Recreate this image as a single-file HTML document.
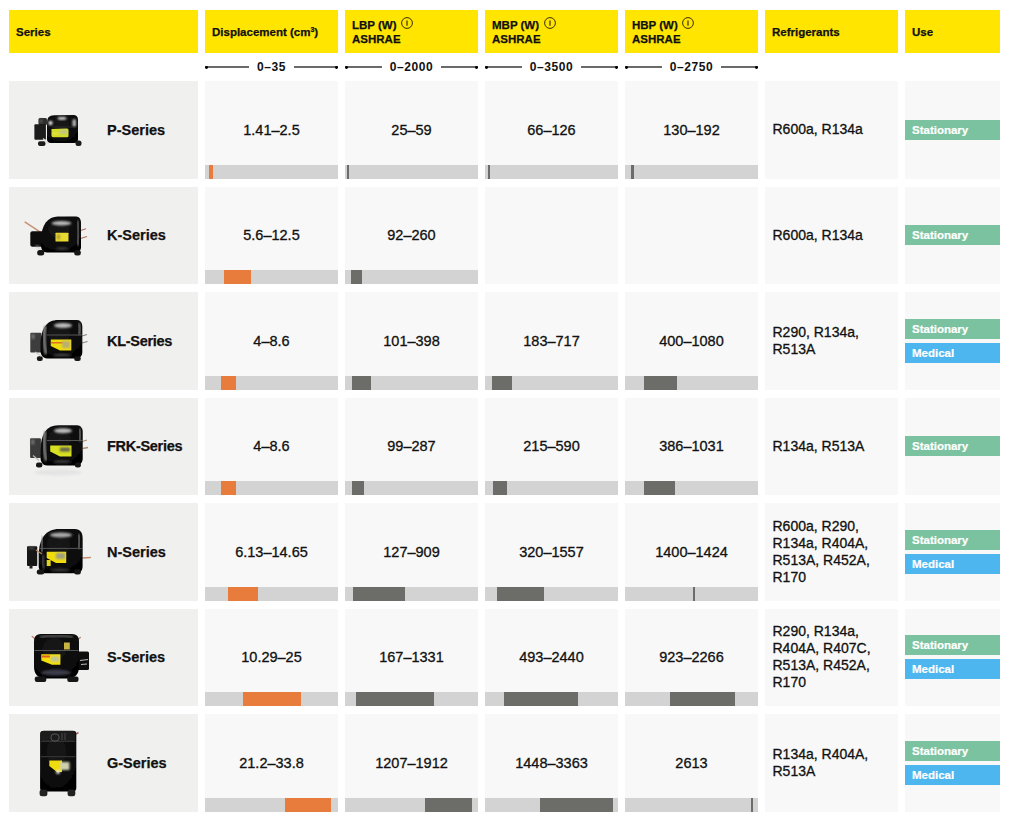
<!DOCTYPE html><html><head><meta charset="utf-8"><style>
*{margin:0;padding:0;box-sizing:border-box}
html,body{width:1024px;height:830px;background:#fff;overflow:hidden}
body{position:relative;font-family:"Liberation Sans",sans-serif;color:#111}
.a{position:absolute}
.hd{position:absolute;top:10px;height:43px;background:#ffe500;font-weight:bold;font-size:11.5px;color:#111;line-height:13.7px}
.hd span{position:absolute;left:7px;-webkit-text-stroke:0.25px #111}
.hd svg{position:absolute}
.rng{position:absolute;top:59px;height:16px}
.rng .l{position:absolute;top:66.5px}
.cell{position:absolute;background:#f8f8f8}
.num{position:absolute;left:0;right:0;text-align:center;font-size:14.5px;line-height:16px;-webkit-text-stroke:0.3px #111}
.bar{position:absolute;left:0;right:0;bottom:0;height:14px;background:#d3d3d3}
.mk{position:absolute;top:0;height:14px}
.ser{position:absolute;font-weight:bold;font-size:14.5px;line-height:16px;left:98px;-webkit-text-stroke:0.25px #111}
.ref{position:absolute;left:7.5px;font-size:14px;line-height:17px;-webkit-text-stroke:0.3px #111}
.badge{position:absolute;left:0;width:95px;height:20px;color:#fff;font-weight:bold;font-size:11.5px;line-height:20px;padding-left:7px;-webkit-text-stroke:0.2px #fff}
</style></head><body>

<div class="hd" style="left:9px;width:189px"><span style="top:15.7px">Series</span></div>
<div class="hd" style="left:205px;width:133px"><span style="top:15.7px">Displacement (cm<sup style="font-size:7px;vertical-align:0;position:relative;top:-4px">3</sup>)</span></div>
<div class="hd" style="left:345px;width:133px"><span style="top:8.8px">LBP (W)<br>ASHRAE</span></div>
<svg class="a" style="left:400.9px;top:17px" width="13" height="13" viewBox="0 0 13 13"><circle cx="6" cy="6" r="5.4" fill="none" stroke="#3a3000" stroke-width="1"/><path d="M6 3.4 L6 8.8" stroke="#3a3000" stroke-width="1.2"/></svg>
<div class="hd" style="left:485px;width:133px"><span style="top:8.8px">MBP (W)<br>ASHRAE</span></div>
<svg class="a" style="left:544.1999999999999px;top:17px" width="13" height="13" viewBox="0 0 13 13"><circle cx="6" cy="6" r="5.4" fill="none" stroke="#3a3000" stroke-width="1"/><path d="M6 3.4 L6 8.8" stroke="#3a3000" stroke-width="1.2"/></svg>
<div class="hd" style="left:625px;width:133px"><span style="top:8.8px">HBP (W)<br>ASHRAE</span></div>
<svg class="a" style="left:681.8px;top:17px" width="13" height="13" viewBox="0 0 13 13"><circle cx="6" cy="6" r="5.4" fill="none" stroke="#3a3000" stroke-width="1"/><path d="M6 3.4 L6 8.8" stroke="#3a3000" stroke-width="1.2"/></svg>
<div class="hd" style="left:765px;width:133px"><span style="top:15.7px">Refrigerants</span></div>
<div class="hd" style="left:905px;width:95px"><span style="top:15.7px">Use</span></div>
<div class="a" style="left:205px;top:59px;width:133px;height:16px;display:flex;align-items:center"><div style="flex:1;height:1.6px;background:#6a6a6a;position:relative;top:0.1px"><i class="a" style="left:0;top:-0.7px;width:3.2px;height:3px;border-radius:1.4px;background:#000"></i></div><div style="padding:0 8px;font-weight:bold;font-size:12px;letter-spacing:0.6px;line-height:16px">0–35</div><div style="flex:1;height:1.6px;background:#6a6a6a;position:relative;top:0.1px"><i class="a" style="right:0;top:-0.7px;width:3.2px;height:3px;border-radius:1.4px;background:#000"></i></div></div>
<div class="a" style="left:345px;top:59px;width:133px;height:16px;display:flex;align-items:center"><div style="flex:1;height:1.6px;background:#6a6a6a;position:relative;top:0.1px"><i class="a" style="left:0;top:-0.7px;width:3.2px;height:3px;border-radius:1.4px;background:#000"></i></div><div style="padding:0 8px;font-weight:bold;font-size:12px;letter-spacing:0.6px;line-height:16px">0–2000</div><div style="flex:1;height:1.6px;background:#6a6a6a;position:relative;top:0.1px"><i class="a" style="right:0;top:-0.7px;width:3.2px;height:3px;border-radius:1.4px;background:#000"></i></div></div>
<div class="a" style="left:485px;top:59px;width:133px;height:16px;display:flex;align-items:center"><div style="flex:1;height:1.6px;background:#6a6a6a;position:relative;top:0.1px"><i class="a" style="left:0;top:-0.7px;width:3.2px;height:3px;border-radius:1.4px;background:#000"></i></div><div style="padding:0 8px;font-weight:bold;font-size:12px;letter-spacing:0.6px;line-height:16px">0–3500</div><div style="flex:1;height:1.6px;background:#6a6a6a;position:relative;top:0.1px"><i class="a" style="right:0;top:-0.7px;width:3.2px;height:3px;border-radius:1.4px;background:#000"></i></div></div>
<div class="a" style="left:625px;top:59px;width:133px;height:16px;display:flex;align-items:center"><div style="flex:1;height:1.6px;background:#6a6a6a;position:relative;top:0.1px"><i class="a" style="left:0;top:-0.7px;width:3.2px;height:3px;border-radius:1.4px;background:#000"></i></div><div style="padding:0 8px;font-weight:bold;font-size:12px;letter-spacing:0.6px;line-height:16px">0–2750</div><div style="flex:1;height:1.6px;background:#6a6a6a;position:relative;top:0.1px"><i class="a" style="right:0;top:-0.7px;width:3.2px;height:3px;border-radius:1.4px;background:#000"></i></div></div>
<div class="cell" style="left:9px;top:81.0px;width:189px;height:97.5px;background:#f0f0ef">
<div class="ser" style="top:40.75px">P-Series</div>
<svg class="a" style="left:0;top:0" width="100" height="97.5" viewBox="9 81 100 97.5"><defs><filter id="bl0" x="-50%" y="-50%" width="200%" height="200%"><feGaussianBlur stdDeviation="0.8"/></filter><filter id="bs0" x="-20%" y="-20%" width="140%" height="140%"><feGaussianBlur stdDeviation="0.45"/></filter><radialGradient id="g0" cx="0.45" cy="0.35" r="0.7"><stop offset="0" stop-color="#1a1a1a"/><stop offset="1" stop-color="#030303"/></radialGradient></defs><g filter="url(#bs0)">
<rect x="38.5" y="118" width="8.5" height="7" rx="1.5" fill="#2e2e2e"/>
<rect x="39.5" y="119" width="3" height="4" fill="#555" filter="url(#bl0)"/>
<rect x="34.4" y="124.2" width="11.5" height="15.5" rx="1" fill="#1a1a1a"/>
<path d="M47 122 Q47 115.5 54 115.2 L74 115 Q78 115.5 78 120 L78 139 Q78 143 74 143 L51 143 Q47 143 47 139 Z" fill="url(#g0)"/>
<ellipse cx="62" cy="118.4" rx="4.5" ry="1.3" fill="#ddd" filter="url(#bl0)"/>
<circle cx="50.5" cy="123" r="2.2" fill="#e0e0e0" filter="url(#bl0)"/>
<rect x="72.5" y="119" width="3.5" height="8" rx="1.7" fill="#bbb" filter="url(#bl0)"/>
<path d="M52 127 L76 127" stroke="#333" stroke-width="0.8"/>
<path d="M51.5 129 L67 128.5 Q68.5 128.5 68.5 130 L68.5 136 Q68.5 137.3 67 137.3 L53 137.3 Q51.5 137 51.5 135.5 Z" fill="#d4dc2a"/>
<rect x="60" y="130" width="7" height="4" fill="#c0c490" filter="url(#bl0)"/>
<path d="M52 134 L58 133" stroke="#f0f060" stroke-width="1.2" filter="url(#bl0)"/>
<rect x="38" y="141.2" width="7.5" height="4.8" rx="2" fill="#1a1a1a"/>
<rect x="75.5" y="140.5" width="6" height="5.5" rx="2.5" fill="#1a1a1a"/>
<path d="M43 138.5 L48.5 143.5" stroke="#e0e0e0" stroke-width="1.1"/>
<path d="M52 141.5 L72 141.5" stroke="#333" stroke-width="1" filter="url(#bl0)"/>
</g></svg>
</div>
<div class="cell" style="left:205px;top:81.0px;width:133px;height:97.5px">
<div class="num" style="top:40.75px">1.41–2.5</div>
<div class="bar"><div class="mk" style="left:3.80px;width:4.00px;background:#e87c3d"></div></div>
</div>
<div class="cell" style="left:345px;top:81.0px;width:133px;height:97.5px">
<div class="num" style="top:40.75px">25–59</div>
<div class="bar"><div class="mk" style="left:1.66px;width:2.26px;background:#6c6c68"></div></div>
</div>
<div class="cell" style="left:485px;top:81.0px;width:133px;height:97.5px">
<div class="num" style="top:40.75px">66–126</div>
<div class="bar"><div class="mk" style="left:2.51px;width:2.28px;background:#6c6c68"></div></div>
</div>
<div class="cell" style="left:625px;top:81.0px;width:133px;height:97.5px">
<div class="num" style="top:40.75px">130–192</div>
<div class="bar"><div class="mk" style="left:6.29px;width:3.00px;background:#6c6c68"></div></div>
</div>
<div class="cell" style="left:765px;top:81.0px;width:133px;height:97.5px">
<div class="ref" style="top:40.25px">R600a, R134a</div>
</div>
<div class="cell" style="left:905px;top:81.0px;width:95px;height:97.5px">
<div class="badge" style="top:38.75px;background:#7bc3a0">Stationary</div>
</div>
<div class="cell" style="left:9px;top:186.5px;width:189px;height:97.5px;background:#f0f0ef">
<div class="ser" style="top:40.75px">K-Series</div>
<svg class="a" style="left:0;top:0" width="100" height="97.5" viewBox="9 186.5 100 97.5"><defs><filter id="bl1" x="-50%" y="-50%" width="200%" height="200%"><feGaussianBlur stdDeviation="0.8"/></filter><filter id="bs1" x="-20%" y="-20%" width="140%" height="140%"><feGaussianBlur stdDeviation="0.45"/></filter><radialGradient id="g1" cx="0.45" cy="0.35" r="0.7"><stop offset="0" stop-color="#1a1a1a"/><stop offset="1" stop-color="#030303"/></radialGradient></defs><g filter="url(#bs1)">
<path d="M25.1 221.6 L40 231.4" stroke="#c49070" stroke-width="1.4" stroke-linecap="round"/>
<path d="M80.5 230 L86 228.3 M80.5 238 L87 236" stroke="#b07060" stroke-width="1.2"/>
<rect x="30.3" y="230.7" width="14" height="15.5" rx="2" fill="#0f0f0f"/>
<path d="M36 245 L40 248" stroke="#aaa" stroke-width="1.2" filter="url(#bl1)"/>
<path d="M41 240 C41 224 48 216 58 216 L76 216 C79.5 216 81 219 81 223 L81 246 C81 250 79 252 75 252 L47 252 C43 252 41 249 41 245 Z" fill="url(#g1)"/>
<ellipse cx="61.5" cy="222.8" rx="10" ry="2.2" fill="#bbb" filter="url(#bl1)"/>
<path d="M77.5 220 Q79.5 232 77.5 245" stroke="#999" stroke-width="1.5" fill="none" filter="url(#bl1)"/>
<path d="M46.5 228 L46.5 248" stroke="#888" stroke-width="2" filter="url(#bl1)"/>
<ellipse cx="62" cy="248" rx="7" ry="1.2" fill="#444" filter="url(#bl1)"/>
<rect x="55.5" y="232.2" width="13" height="8.8" rx="0.5" fill="#e8d830"/>
<rect x="57" y="234" width="3" height="5" fill="#a89830" filter="url(#bl1)"/>
<rect x="37.2" y="249.4" width="7" height="5.5" rx="2.5" fill="#151515"/>
<rect x="74.2" y="249.4" width="6.6" height="5.5" rx="2.5" fill="#151515"/>
</g></svg>
</div>
<div class="cell" style="left:205px;top:186.5px;width:133px;height:97.5px">
<div class="num" style="top:40.75px">5.6–12.5</div>
<div class="bar"><div class="mk" style="left:19.00px;width:27.00px;background:#e87c3d"></div></div>
</div>
<div class="cell" style="left:345px;top:186.5px;width:133px;height:97.5px">
<div class="num" style="top:40.75px">92–260</div>
<div class="bar"><div class="mk" style="left:6.12px;width:11.17px;background:#6c6c68"></div></div>
</div>
<div class="cell" style="left:485px;top:186.5px;width:133px;height:97.5px">
</div>
<div class="cell" style="left:625px;top:186.5px;width:133px;height:97.5px">
</div>
<div class="cell" style="left:765px;top:186.5px;width:133px;height:97.5px">
<div class="ref" style="top:40.25px">R600a, R134a</div>
</div>
<div class="cell" style="left:905px;top:186.5px;width:95px;height:97.5px">
<div class="badge" style="top:38.75px;background:#7bc3a0">Stationary</div>
</div>
<div class="cell" style="left:9px;top:292.0px;width:189px;height:97.5px;background:#f0f0ef">
<div class="ser" style="top:40.75px;letter-spacing:-0.3px">KL-Series</div>
<svg class="a" style="left:0;top:0" width="100" height="97.5" viewBox="9 292 100 97.5"><defs><filter id="bl2" x="-50%" y="-50%" width="200%" height="200%"><feGaussianBlur stdDeviation="0.8"/></filter><filter id="bs2" x="-20%" y="-20%" width="140%" height="140%"><feGaussianBlur stdDeviation="0.45"/></filter><radialGradient id="g2" cx="0.45" cy="0.35" r="0.7"><stop offset="0" stop-color="#1a1a1a"/><stop offset="1" stop-color="#030303"/></radialGradient></defs><g filter="url(#bs2)">
<path d="M82 336 L87 334.5 M82 343 L87.5 341.5" stroke="#888" stroke-width="1.2"/>
<rect x="30.3" y="332.8" width="11" height="19.8" rx="1" fill="#3c3c3c"/>
<rect x="31.5" y="334" width="3" height="5" fill="#777" filter="url(#bl2)"/>
<path d="M40.5 345 C40.5 328 47 320 58 320 L77 320 C80.5 320 82.3 323 82.3 327 L82.3 352 C82.3 356 80 358.4 76 358.4 L47 358.4 C43 358.4 40.5 355 40.5 351 Z" fill="url(#g2)"/>
<ellipse cx="63" cy="325.5" rx="9" ry="2.5" fill="#bbb" filter="url(#bl2)"/>
<path d="M79 323 Q80.5 330 79 335" stroke="#aaa" stroke-width="1.5" fill="none" filter="url(#bl2)"/>
<path d="M45 326 Q43 340 46 354" stroke="#999" stroke-width="2.4" fill="none" filter="url(#bl2)"/>
<path d="M47 335 L82 335" stroke="#555" stroke-width="1"/>
<ellipse cx="62" cy="355" rx="9" ry="1.3" fill="#444" filter="url(#bl2)"/>
<path d="M50.8 339.4 L71.3 339.4 L71.3 350.4 L60 350.4 L50.8 346 Z" fill="#f0dc10"/>
<path d="M50.8 342 L63 342 L63 343.5 L50.8 343.5 Z" fill="#e07020"/>
<rect x="62" y="341" width="8" height="7" fill="#b8b070" filter="url(#bl2)"/>
<rect x="36.8" y="356.2" width="6" height="4.8" rx="2.2" fill="#151515"/>
<rect x="74.2" y="356.2" width="6.6" height="4.8" rx="2.2" fill="#151515"/>
<path d="M35 352 L41 356" stroke="#ccc" stroke-width="1.2"/>
</g></svg>
</div>
<div class="cell" style="left:205px;top:292.0px;width:133px;height:97.5px">
<div class="num" style="top:40.75px">4–8.6</div>
<div class="bar"><div class="mk" style="left:15.70px;width:15.40px;background:#e87c3d"></div></div>
</div>
<div class="cell" style="left:345px;top:292.0px;width:133px;height:97.5px">
<div class="num" style="top:40.75px">101–398</div>
<div class="bar"><div class="mk" style="left:6.72px;width:19.75px;background:#6c6c68"></div></div>
</div>
<div class="cell" style="left:485px;top:292.0px;width:133px;height:97.5px">
<div class="num" style="top:40.75px">183–717</div>
<div class="bar"><div class="mk" style="left:6.95px;width:20.29px;background:#6c6c68"></div></div>
</div>
<div class="cell" style="left:625px;top:292.0px;width:133px;height:97.5px">
<div class="num" style="top:40.75px">400–1080</div>
<div class="bar"><div class="mk" style="left:19.35px;width:32.89px;background:#6c6c68"></div></div>
</div>
<div class="cell" style="left:765px;top:292.0px;width:133px;height:97.5px">
<div class="ref" style="top:31.75px">R290, R134a,<br>R513A</div>
</div>
<div class="cell" style="left:905px;top:292.0px;width:95px;height:97.5px">
<div class="badge" style="top:26.75px;background:#7bc3a0">Stationary</div>
<div class="badge" style="top:50.75px;background:#4db6ee">Medical</div>
</div>
<div class="cell" style="left:9px;top:397.5px;width:189px;height:97.5px;background:#f0f0ef">
<div class="ser" style="top:40.75px;letter-spacing:-0.3px">FRK-Series</div>
<svg class="a" style="left:0;top:0" width="100" height="97.5" viewBox="9 397.5 100 97.5"><defs><filter id="bl3" x="-50%" y="-50%" width="200%" height="200%"><feGaussianBlur stdDeviation="0.8"/></filter><filter id="bs3" x="-20%" y="-20%" width="140%" height="140%"><feGaussianBlur stdDeviation="0.45"/></filter><radialGradient id="g3" cx="0.45" cy="0.35" r="0.7"><stop offset="0" stop-color="#1a1a1a"/><stop offset="1" stop-color="#030303"/></radialGradient></defs><g filter="url(#bs3)">
<ellipse cx="58" cy="472" rx="24" ry="3" fill="#e4e4e4" filter="url(#bl3)"/>
<path d="M82.5 441 L87 439.5 M82.5 448 L88 447" stroke="#b09070" stroke-width="1.3"/>
<rect x="30.1" y="437.8" width="10.8" height="19.8" rx="1" fill="#3a3a3a"/>
<rect x="31.3" y="439" width="3" height="5" fill="#777" filter="url(#bl3)"/>
<path d="M33 455 L39 460" stroke="#bbb" stroke-width="1.2"/>
<path d="M40.5 450 C40.5 433 47 424.7 58 424.7 L77 424.7 C80.5 424.7 82.7 427.5 82.7 431.5 L82.7 458 C82.7 462 80 465 76 465 L47 465 C43 465 40.5 461.5 40.5 457 Z" fill="url(#g3)"/>
<ellipse cx="63" cy="430.3" rx="9" ry="2.5" fill="#bbb" filter="url(#bl3)"/>
<path d="M79.5 428 Q81 435 79.5 441" stroke="#aaa" stroke-width="1.5" fill="none" filter="url(#bl3)"/>
<path d="M45 431 Q43 445 46 460" stroke="#999" stroke-width="2.4" fill="none" filter="url(#bl3)"/>
<path d="M47 440 L82.7 440" stroke="#555" stroke-width="1"/>
<ellipse cx="62" cy="461" rx="9" ry="1.3" fill="#444" filter="url(#bl3)"/>
<path d="M50.2 444.9 L71.5 444.9 L71.5 456.1 L60 456.1 L50.2 451 Z" fill="#d8e020"/>
<rect x="60" y="447" width="10" height="4" fill="#606050" filter="url(#bl3)"/>
<rect x="36" y="462" width="6.4" height="5" rx="2.3" fill="#151515"/>
<rect x="74.9" y="462" width="6" height="5" rx="2.3" fill="#151515"/>
</g></svg>
</div>
<div class="cell" style="left:205px;top:397.5px;width:133px;height:97.5px">
<div class="num" style="top:40.75px">4–8.6</div>
<div class="bar"><div class="mk" style="left:15.60px;width:15.50px;background:#e87c3d"></div></div>
</div>
<div class="cell" style="left:345px;top:397.5px;width:133px;height:97.5px">
<div class="num" style="top:40.75px">99–287</div>
<div class="bar"><div class="mk" style="left:6.58px;width:12.50px;background:#6c6c68"></div></div>
</div>
<div class="cell" style="left:485px;top:397.5px;width:133px;height:97.5px">
<div class="num" style="top:40.75px">215–590</div>
<div class="bar"><div class="mk" style="left:8.17px;width:14.25px;background:#6c6c68"></div></div>
</div>
<div class="cell" style="left:625px;top:397.5px;width:133px;height:97.5px">
<div class="num" style="top:40.75px">386–1031</div>
<div class="bar"><div class="mk" style="left:18.67px;width:31.19px;background:#6c6c68"></div></div>
</div>
<div class="cell" style="left:765px;top:397.5px;width:133px;height:97.5px">
<div class="ref" style="top:40.25px">R134a, R513A</div>
</div>
<div class="cell" style="left:905px;top:397.5px;width:95px;height:97.5px">
<div class="badge" style="top:38.75px;background:#7bc3a0">Stationary</div>
</div>
<div class="cell" style="left:9px;top:503.0px;width:189px;height:97.5px;background:#f0f0ef">
<div class="ser" style="top:40.75px">N-Series</div>
<svg class="a" style="left:0;top:0" width="100" height="97.5" viewBox="9 503 100 97.5"><defs><filter id="bl4" x="-50%" y="-50%" width="200%" height="200%"><feGaussianBlur stdDeviation="0.8"/></filter><filter id="bs4" x="-20%" y="-20%" width="140%" height="140%"><feGaussianBlur stdDeviation="0.45"/></filter><radialGradient id="g4" cx="0.45" cy="0.35" r="0.7"><stop offset="0" stop-color="#1a1a1a"/><stop offset="1" stop-color="#030303"/></radialGradient></defs><g filter="url(#bs4)">
<path d="M82.6 558 L90.3 557.5" stroke="#c09070" stroke-width="1.6" stroke-linecap="round"/>
<rect x="27" y="546.2" width="10.2" height="19.8" rx="1" fill="#151515"/>
<rect x="28.5" y="547" width="6" height="2.5" fill="#444" filter="url(#bl4)"/>
<rect x="29.5" y="565" width="3" height="3.5" fill="#222"/>
<path d="M38.7 556 C38.7 538 46 529 59 529 L75 529 C80 529 82.6 532.5 82.6 538 L82.6 566 C82.6 571 80 573.3 76 573.3 L45 573.3 C41 573.3 38.7 570 38.7 566 Z" fill="url(#g4)"/>
<ellipse cx="61" cy="535" rx="11" ry="2.5" fill="#aaa" filter="url(#bl4)"/>
<path d="M78.5 534 Q80.5 542 78.5 549" stroke="#aaa" stroke-width="1.5" fill="none" filter="url(#bl4)"/>
<path d="M42.5 536 Q41 545 42 552" stroke="#999" stroke-width="1.7" fill="none" filter="url(#bl4)"/>
<path d="M43 555 Q42 563 44 569" stroke="#666" stroke-width="1.5" fill="none" filter="url(#bl4)"/>
<path d="M39 548.4 L82.6 548.4" stroke="#555" stroke-width="1"/>
<ellipse cx="60" cy="570" rx="10" ry="1.4" fill="#3a3a3a" filter="url(#bl4)"/>
<path d="M46.7 551.7 L66.2 551.7 L66.2 563 L56 563 L46.7 558 Z" fill="#f0dc10"/>
<rect x="56" y="553" width="9" height="6" fill="#a0a080" filter="url(#bl4)"/>
<rect x="46.7" y="560" width="4" height="6" fill="#e0d020"/>
<path d="M36 550 L42 554" stroke="#b08060" stroke-width="1.4"/>
<rect x="36.8" y="569.6" width="7.4" height="4.8" rx="2.2" fill="#151515"/>
<rect x="74.2" y="569.6" width="6.6" height="4.8" rx="2.2" fill="#151515"/>
</g></svg>
</div>
<div class="cell" style="left:205px;top:503.0px;width:133px;height:97.5px">
<div class="num" style="top:40.75px">6.13–14.65</div>
<div class="bar"><div class="mk" style="left:22.90px;width:30.40px;background:#e87c3d"></div></div>
</div>
<div class="cell" style="left:345px;top:503.0px;width:133px;height:97.5px">
<div class="num" style="top:40.75px">127–909</div>
<div class="bar"><div class="mk" style="left:8.45px;width:52.00px;background:#6c6c68"></div></div>
</div>
<div class="cell" style="left:485px;top:503.0px;width:133px;height:97.5px">
<div class="num" style="top:40.75px">320–1557</div>
<div class="bar"><div class="mk" style="left:12.16px;width:47.01px;background:#6c6c68"></div></div>
</div>
<div class="cell" style="left:625px;top:503.0px;width:133px;height:97.5px">
<div class="num" style="top:40.75px">1400–1424</div>
<div class="bar"><div class="mk" style="left:67.71px;width:2.00px;background:#6c6c68"></div></div>
</div>
<div class="cell" style="left:765px;top:503.0px;width:133px;height:97.5px">
<div class="ref" style="top:14.75px">R600a, R290,<br>R134a, R404A,<br>R513A, R452A,<br>R170</div>
</div>
<div class="cell" style="left:905px;top:503.0px;width:95px;height:97.5px">
<div class="badge" style="top:26.75px;background:#7bc3a0">Stationary</div>
<div class="badge" style="top:50.75px;background:#4db6ee">Medical</div>
</div>
<div class="cell" style="left:9px;top:608.5px;width:189px;height:97.5px;background:#f0f0ef">
<div class="ser" style="top:40.75px">S-Series</div>
<svg class="a" style="left:0;top:0" width="100" height="97.5" viewBox="9 608.5 100 97.5"><defs><filter id="bl5" x="-50%" y="-50%" width="200%" height="200%"><feGaussianBlur stdDeviation="0.8"/></filter><filter id="bs5" x="-20%" y="-20%" width="140%" height="140%"><feGaussianBlur stdDeviation="0.45"/></filter><radialGradient id="g5" cx="0.45" cy="0.35" r="0.7"><stop offset="0" stop-color="#1a1a1a"/><stop offset="1" stop-color="#030303"/></radialGradient></defs><g filter="url(#bs5)">
<path d="M32.2 636 L36 639 M80.3 637 L76.5 640" stroke="#c08070" stroke-width="1.4" stroke-linecap="round"/>
<rect x="77" y="651.1" width="12" height="18.5" rx="1.5" fill="#111"/>
<path d="M80 660 L88 659 M81 664 L87 663.5" stroke="#ccc" stroke-width="0.9"/>
<path d="M34 641 C34 635 37 633.4 43 633.4 L70 633.4 C76 633.4 79 635 79 641 L79 666 C79 674 75 677.9 67 677.9 L46 677.9 C38 677.9 34 674 34 666 Z" fill="url(#g5)"/>
<path d="M40 636.5 Q56 634 73 636.5" stroke="#777" stroke-width="1.3" fill="none" filter="url(#bl5)"/>
<path d="M34.5 650 L78.5 650" stroke="#555" stroke-width="1"/>
<path d="M36.5 641 L36.5 670" stroke="#777" stroke-width="1.3" filter="url(#bl5)"/>
<path d="M76 641 L76 668" stroke="#444" stroke-width="1.2" filter="url(#bl5)"/>
<ellipse cx="56" cy="672" rx="15" ry="3" fill="#3a3a48" filter="url(#bl5)"/>
<path d="M41.3 653.7 L60.4 653.7 L60.4 664.2 L52 664.2 L41.3 660 Z" fill="#f2e010"/>
<rect x="42" y="655" width="8" height="2" fill="#e06020"/>
<rect x="51" y="656" width="8" height="5" fill="#c0c0a0" filter="url(#bl5)"/>
<rect x="64" y="642" width="5.8" height="7" fill="#c8b440"/>
<rect x="34.8" y="676" width="11.5" height="5.5" rx="2" fill="#151515"/>
<rect x="67.3" y="676" width="11.2" height="5.5" rx="2" fill="#151515"/>
</g></svg>
</div>
<div class="cell" style="left:205px;top:608.5px;width:133px;height:97.5px">
<div class="num" style="top:40.75px">10.29–25</div>
<div class="bar"><div class="mk" style="left:37.80px;width:58.45px;background:#e87c3d"></div></div>
</div>
<div class="cell" style="left:345px;top:608.5px;width:133px;height:97.5px">
<div class="num" style="top:40.75px">167–1331</div>
<div class="bar"><div class="mk" style="left:11.11px;width:77.41px;background:#6c6c68"></div></div>
</div>
<div class="cell" style="left:485px;top:608.5px;width:133px;height:97.5px">
<div class="num" style="top:40.75px">493–2440</div>
<div class="bar"><div class="mk" style="left:18.73px;width:73.99px;background:#6c6c68"></div></div>
</div>
<div class="cell" style="left:625px;top:608.5px;width:133px;height:97.5px">
<div class="num" style="top:40.75px">923–2266</div>
<div class="bar"><div class="mk" style="left:44.64px;width:64.95px;background:#6c6c68"></div></div>
</div>
<div class="cell" style="left:765px;top:608.5px;width:133px;height:97.5px">
<div class="ref" style="top:14.75px">R290, R134a,<br>R404A, R407C,<br>R513A, R452A,<br>R170</div>
</div>
<div class="cell" style="left:905px;top:608.5px;width:95px;height:97.5px">
<div class="badge" style="top:26.75px;background:#7bc3a0">Stationary</div>
<div class="badge" style="top:50.75px;background:#4db6ee">Medical</div>
</div>
<div class="cell" style="left:9px;top:714.0px;width:189px;height:97.5px;background:#f0f0ef">
<div class="ser" style="top:40.75px">G-Series</div>
<svg class="a" style="left:0;top:0" width="100" height="97.5" viewBox="9 714 100 97.5"><defs><filter id="bl6" x="-50%" y="-50%" width="200%" height="200%"><feGaussianBlur stdDeviation="0.8"/></filter><filter id="bs6" x="-20%" y="-20%" width="140%" height="140%"><feGaussianBlur stdDeviation="0.45"/></filter><radialGradient id="g6" cx="0.45" cy="0.35" r="0.7"><stop offset="0" stop-color="#1a1a1a"/><stop offset="1" stop-color="#030303"/></radialGradient></defs><g filter="url(#bs6)">
<path d="M76 734 L78.5 732.5" stroke="#b07070" stroke-width="1.6"/>
<path d="M40.1 734 Q40.1 730.7 44 730.7 L73 730.7 Q76.3 730.7 76.3 734 L76.3 788 Q76.3 791.4 73 791.4 L44 791.4 Q40.1 791.4 40.1 788 Z" fill="url(#g6)"/>
<rect x="41" y="731" width="34.5" height="10" rx="2" fill="#1c1c1c"/>
<path d="M41 741.3 L75.5 741.3 M41 756.7 L75.5 756.7" stroke="#3a3a3a" stroke-width="1"/>
<rect x="51" y="734" width="8" height="7" rx="3" fill="#1a1a1a" stroke="#666" stroke-width="0.8"/>
<path d="M62 733 L62 740 M65 733 L65 740" stroke="#555" stroke-width="0.8"/>
<path d="M44 745 L44 785" stroke="#666" stroke-width="1.5" filter="url(#bl6)"/>
<path d="M71.5 745 L71.5 785" stroke="#555" stroke-width="1.2" filter="url(#bl6)"/>
<path d="M49.3 760.6 L62 760.6 L62 772.1 L57 772.1 L49.3 766 Z" fill="#f0dc10"/>
<rect x="60" y="762" width="9.5" height="8" fill="#d0d0b0" filter="url(#bl6)"/>
<circle cx="58" cy="772" r="2" fill="#eee" filter="url(#bl6)"/>
<rect x="39.6" y="789.5" width="7.8" height="6.8" rx="2.5" fill="#202020"/>
<rect x="67.6" y="789.5" width="7.7" height="6.8" rx="2.5" fill="#202020"/>
</g></svg>
</div>
<div class="cell" style="left:205px;top:714.0px;width:133px;height:97.5px">
<div class="num" style="top:40.75px">21.2–33.8</div>
<div class="bar"><div class="mk" style="left:80.40px;width:46.00px;background:#e87c3d"></div></div>
</div>
<div class="cell" style="left:345px;top:714.0px;width:133px;height:97.5px">
<div class="num" style="top:40.75px">1207–1912</div>
<div class="bar"><div class="mk" style="left:80.27px;width:46.88px;background:#6c6c68"></div></div>
</div>
<div class="cell" style="left:485px;top:714.0px;width:133px;height:97.5px">
<div class="num" style="top:40.75px">1448–3363</div>
<div class="bar"><div class="mk" style="left:55.02px;width:72.77px;background:#6c6c68"></div></div>
</div>
<div class="cell" style="left:625px;top:714.0px;width:133px;height:97.5px">
<div class="num" style="top:40.75px">2613</div>
<div class="bar"><div class="mk" style="left:126.37px;width:2.00px;background:#6c6c68"></div></div>
</div>
<div class="cell" style="left:765px;top:714.0px;width:133px;height:97.5px">
<div class="ref" style="top:31.75px">R134a, R404A,<br>R513A</div>
</div>
<div class="cell" style="left:905px;top:714.0px;width:95px;height:97.5px">
<div class="badge" style="top:26.75px;background:#7bc3a0">Stationary</div>
<div class="badge" style="top:50.75px;background:#4db6ee">Medical</div>
</div>
</body></html>
